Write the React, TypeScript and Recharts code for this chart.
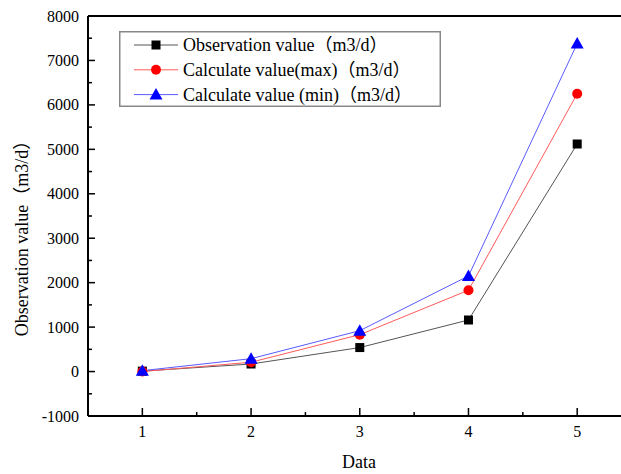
import React from 'react';
import { LineChart, Line, XAxis, YAxis, ReferenceLine, Label } from 'recharts';

const categories = [1, 2, 3, 4, 5];
const observation = [10, 170, 540, 1160, 5120];
const calcMax = [0, 210, 830, 1830, 6250];
const calcMin = [20, 290, 920, 2150, 7380];
const xTicks = [1, 1.5, 2, 2.5, 3, 3.5, 4, 4.5, 5];
const yTicks = [-1000, -500, 0, 500, 1000, 1500, 2000, 2500, 3000, 3500, 4000, 4500, 5000, 5500, 6000, 6500, 7000, 7500, 8000];

const seriesNames = [
  'Observation value（m3/d）',
  'Calculate value(max)（m3/d）',
  'Calculate value (min)（m3/d）',
];

const data = categories.map((c, i) => ({
  x: c,
  obs: observation[i],
  max: calcMax[i],
  min: calcMin[i],
}));

const FONT = '"Liberation Serif", "Noto Sans CJK SC", serif';

const Square = ({ cx, cy, color }: any) => (
  <rect x={cx - 4.5} y={cy - 4.5} width={9} height={9} fill={color} />
);
const Circle = ({ cx, cy, color }: any) => <circle cx={cx} cy={cy} r={5} fill={color} />;
const Tri = ({ cx, cy, color }: any) => (
  <polygon points={`${cx},${cy - 6.5} ${cx - 6.5},${cy + 5} ${cx + 6.5},${cy + 5}`} fill={color} />
);

const XTick = (props: any) => {
  const { x, y, payload } = props;
  const major = Number.isInteger(payload.value);
  return (
    <g>
      <line x1={x} x2={x} y1={y} y2={y - (major ? 8 : 4)} stroke="#000" strokeWidth={1.5} />
      {major && (
        <text x={x} y={y + 21} textAnchor="middle" style={{ fontFamily: FONT, fontSize: 16 }} fill="#000">
          {payload.value}
        </text>
      )}
    </g>
  );
};

const YTick = (props: any) => {
  const { x, y, payload } = props;
  const major = payload.value % 1000 === 0;
  return (
    <g>
      <line x1={x} x2={x + (major ? 7 : 4)} y1={y} y2={y} stroke="#000" strokeWidth={1.5} />
      {major && (
        <text x={x - 9} y={y} dy="0.35em" textAnchor="end" style={{ fontFamily: FONT, fontSize: 16 }} fill="#000">
          {payload.value}
        </text>
      )}
    </g>
  );
};

const LegendBox = () => {
  const rows = [
    { name: seriesNames[0], line: '#555', mk: (cx: number, cy: number) => <Square cx={cx} cy={cy} color="#000" /> },
    { name: seriesNames[1], line: '#ff5a5a', mk: (cx: number, cy: number) => <Circle cx={cx} cy={cy} color="#ff0000" /> },
    { name: seriesNames[2], line: '#5a5aff', mk: (cx: number, cy: number) => <Tri cx={cx} cy={cy} color="#0000ff" /> },
  ];
  return (
    <svg width={322} height={76} style={{ display: 'block' }}>
      <rect x={0.75} y={0.75} width={320.5} height={74.5} fill="#fff" stroke="#888" strokeWidth={1.5} />
      {rows.map((r, i) => {
        const cy = 14 + i * 24.8;
        return (
          <g key={i}>
            <line x1={15} x2={59} y1={cy} y2={cy} stroke={r.line} strokeWidth={1} />
            {r.mk(37, cy)}
            <text x={64} y={cy} dy="0.35em" style={{ fontFamily: FONT, fontSize: 18 }} fill="#000">
              {r.name}
            </text>
          </g>
        );
      })}
    </svg>
  );
};

export default function App() {
  return (
    <div style={{ position: 'absolute', left: 0, top: 0, width: 621, height: 474, background: '#fff' }}>
      <LineChart width={621} height={474} data={data} margin={{ top: 16, right: 0, bottom: 0, left: 0 }}>
        <XAxis
          dataKey="x"
          type="number"
          domain={[0.5, 5.403]}
          ticks={xTicks}
          allowDataOverflow
          height={58}
          tickSize={0}
          tickMargin={0}
          tickLine={false}
          tick={<XTick />}
          interval={0}
          axisLine={{ stroke: '#000', strokeWidth: 2 }}
        >
          <Label
            content={() => (
              <text x={359} y={468} textAnchor="middle" style={{ fontFamily: FONT, fontSize: 18 }} fill="#000">
                Data
              </text>
            )}
          />
        </XAxis>
        <YAxis
          type="number"
          domain={[-1000, 8000]}
          ticks={yTicks}
          allowDataOverflow
          width={88}
          tickSize={0}
          tickMargin={0}
          tickLine={false}
          tick={<YTick />}
          interval={0}
          axisLine={{ stroke: '#000', strokeWidth: 2 }}
        >
          <Label
            content={() => (
              <text
                x={22}
                y={234}
                transform="rotate(-90 22 234)"
                textAnchor="middle"
                dy="0.35em"
                style={{ fontFamily: FONT, fontSize: 18 }}
                fill="#000"
              >
                {seriesNames[0]}
              </text>
            )}
          />
        </YAxis>
        <ReferenceLine y={8000} stroke="#000" strokeWidth={2} />
        <Line
          dataKey="obs"
          name={seriesNames[0]}
          stroke="#555"
          strokeWidth={1}
          isAnimationActive={false}
          dot={(p: any) => <Square key={`o${p.index}`} cx={p.cx} cy={p.cy} color="#000" />}
        />
        <Line
          dataKey="max"
          name={seriesNames[1]}
          stroke="#ff5a5a"
          strokeWidth={1}
          isAnimationActive={false}
          dot={(p: any) => <Circle key={`m${p.index}`} cx={p.cx} cy={p.cy} color="#ff0000" />}
        />
        <Line
          dataKey="min"
          name={seriesNames[2]}
          stroke="#5a5aff"
          strokeWidth={1}
          isAnimationActive={false}
          dot={(p: any) => <Tri key={`n${p.index}`} cx={p.cx} cy={p.cy} color="#0000ff" />}
        />
      </LineChart>
      <div style={{ position: 'absolute', left: 119, top: 31 }}>
        <LegendBox />
      </div>
    </div>
  );
}
